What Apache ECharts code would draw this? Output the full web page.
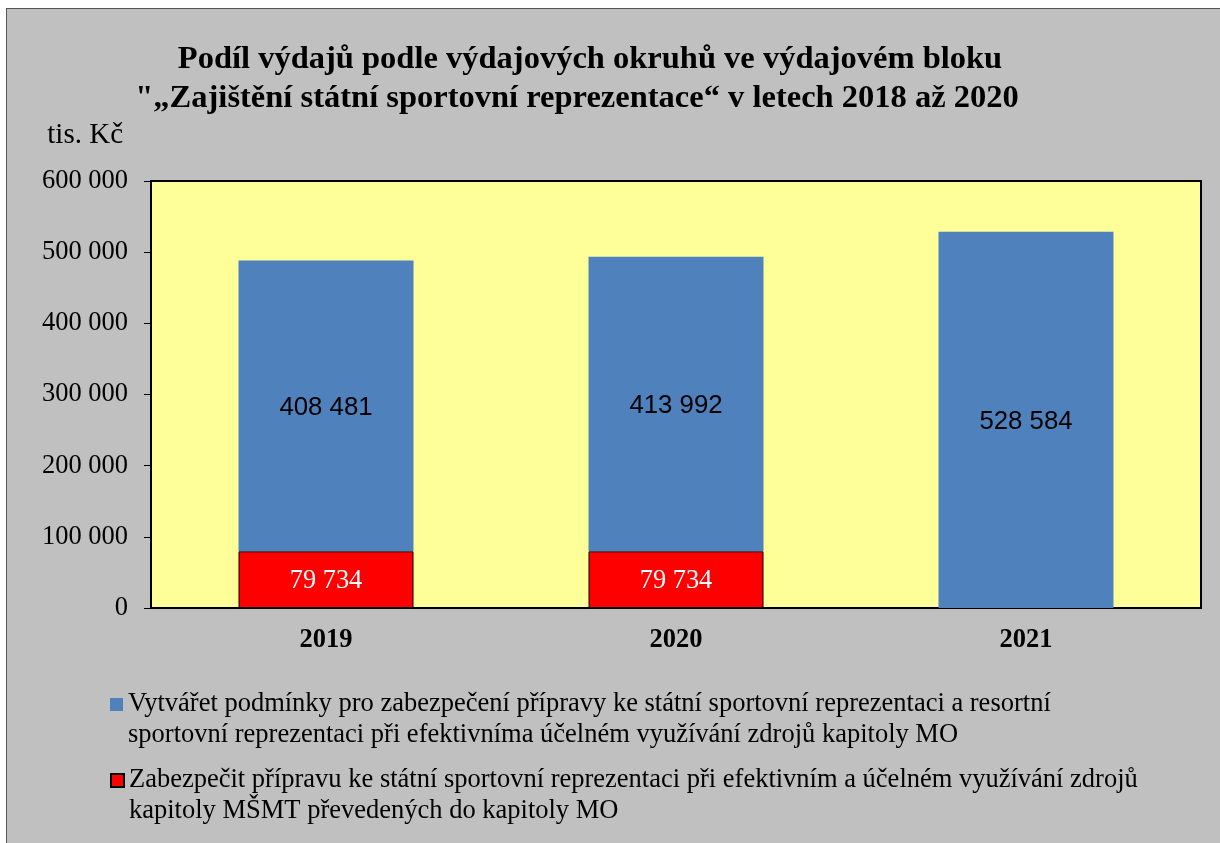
<!DOCTYPE html>
<html>
<head>
<meta charset="utf-8">
<script src="https://cdn.jsdelivr.net/npm/echarts@6/dist/echarts.min.js"></script>
<style>
  html, body { margin: 0; padding: 0; background: #fff; overflow: hidden; }
  #chart { position: absolute; left: 6px; top: 8px; width: 1214px; height: 835px;
           border: 1px solid #555; background: #c0c0c0; }
</style>
</head>
<body>
<div id="chart"></div>
<script>
// data
const years = ['2019', '2020', '2021'];
const mschtValues = [79734, 79734, 0];          // red, bottom
const moValues = [408481, 413992, 528584];      // blue, on top
const seriesNames = ['MO', 'MSMT'];
const titleLines = [
  'Podíl výdajů podle výdajových okruhů ve výdajovém bloku',
  '"„Zajištění státní sportovní reprezentace“ v letech 2018 až 2020'
];
const legendTexts = [
  'Vytvářet podmínky pro zabezpečení přípravy ke státní sportovní reprezentaci a resortní\nsportovní reprezentaci při efektivníma účelném využívání zdrojů kapitoly MO',
  'Zabezpečit přípravu ke státní sportovní reprezentaci při efektivním a účelném využívání zdrojů\nkapitoly MŠMT převedených do kapitoly MO'
];

const serif = '"Liberation Serif", "Times New Roman", serif';
const sans = '"Liberation Sans", Arial, sans-serif';
const fmt = v => String(v).replace(/\B(?=(\d{3})+(?!\d))/g, ' ');

const chart = echarts.init(document.getElementById('chart'));

// leading empty line puts the icon beside the first text line
function legendFor(i, top) {
  return {
    data: [seriesNames[i]],
    orient: 'vertical',
    left: 103,
    top: top,
    padding: 0,
    itemWidth: 13,
    itemHeight: 13,
    icon: 'rect',
    selectedMode: false,
    formatter: () => '\n' + legendTexts[i],
    textStyle: { fontFamily: serif, fontSize: 26.5, color: '#000', lineHeight: 31 }
  };
}

const titleFont = { fontFamily: serif, fontSize: 32.5, fontWeight: 'bold', color: '#000', lineHeight: 39 };

chart.setOption({
  animation: false,
  title: {
    text: '{a|' + titleLines[0] + '}\n{b|' + titleLines[1] + '}',
    left: 578,
    textAlign: 'center',
    top: 26,
    textStyle: {
      rich: {
        a: titleFont,
        b: Object.assign({}, titleFont, { padding: [0, 26, 0, 0] })
      }
    }
  },
  legend: [legendFor(0, 649), legendFor(1, 725)],
  grid: {
    left: 144, top: 172, width: 1050, height: 427,
    show: true, backgroundColor: '#ffff99', borderColor: '#000', borderWidth: 2
  },
  xAxis: {
    type: 'category',
    data: years,
    axisLine: { lineStyle: { color: '#000', width: 2 } },
    axisTick: { length: 7, lineStyle: { color: '#000' } },
    axisLabel: { fontFamily: serif, fontSize: 26.5, fontWeight: 'bold', color: '#000', margin: 19 }
  },
  yAxis: {
    type: 'value',
    min: 0, max: 600000, interval: 100000,
    name: 'tis. Kč',
    nameLocation: 'end',
    nameGap: 31,
    nameTextStyle: { fontFamily: serif, fontSize: 29, color: '#000', align: 'right', padding: [0, 28, 0, 0] },
    axisLine: { show: true, lineStyle: { color: '#000', width: 2 } },
    axisTick: { show: true, length: 7, lineStyle: { color: '#000' } },
    splitLine: { show: false },
    axisLabel: { fontFamily: serif, fontSize: 26.5, color: '#000', margin: 23, formatter: fmt }
  },
  series: [
    {
      name: seriesNames[1],
      type: 'bar',
      stack: 'total',
      barWidth: '50%',
      data: mschtValues.map(v => v || null),
      itemStyle: { color: '#ff0000', borderColor: '#000', borderWidth: 1 },
      label: { show: true, position: 'inside', offset: [0, 1], fontFamily: serif, fontSize: 26.4, color: '#fff', formatter: p => fmt(p.value) }
    },
    {
      name: seriesNames[0],
      type: 'bar',
      stack: 'total',
      barWidth: '50%',
      data: moValues,
      itemStyle: { color: '#4f81bd' },
      label: { show: true, position: 'inside', offset: [0, 2], fontFamily: sans, fontSize: 25.8, color: '#000', formatter: p => fmt(p.value) }
    }
  ]
});
</script>
</body>
</html>
